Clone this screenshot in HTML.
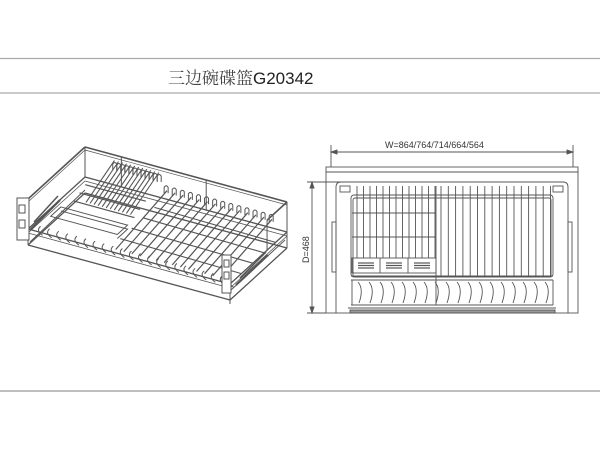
<!DOCTYPE html>
<html><head><meta charset="utf-8"><style>
html,body{margin:0;padding:0;background:#fff;width:600px;height:450px;overflow:hidden}
svg{display:block}
</style></head><body>
<svg id="s" width="600" height="450" viewBox="0 0 600 450" xmlns="http://www.w3.org/2000/svg" font-family="Liberation Sans, Noto Sans CJK SC, sans-serif">
<rect width="600" height="450" fill="#fff"/>
<line x1="0" y1="58.5" x2="600" y2="58.5" stroke="#aaa" stroke-width="1.2"/>
<line x1="0" y1="93" x2="600" y2="93" stroke="#aaa" stroke-width="1.2"/>
<line x1="0" y1="391" x2="600" y2="391" stroke="#aaa" stroke-width="1.5"/>
<text x="168" y="84" font-size="17" fill="#222"><tspan font-family="Noto Serif CJK SC, serif" fill="#444">三边碗碟篮</tspan><tspan font-family="Liberation Sans, sans-serif">G20342</tspan></text>
<g id="L" fill="none" stroke="#555" stroke-width="1"></g>
<g id="R" fill="none" stroke="#555" stroke-width="0.9">
<line x1="331" y1="152" x2="573" y2="152"/>
<path d="M331,152 l6,-2 v4z M573,152 l-6,-2 v4z" fill="#555"/>
<line x1="331" y1="145" x2="331" y2="167"/><line x1="573" y1="145" x2="573" y2="167"/>
<rect x="326" y="167" width="252" height="146"/>
<line x1="326" y1="172" x2="578" y2="172"/>
<line x1="307" y1="182" x2="343" y2="182"/>
<line x1="312" y1="182" x2="312" y2="313"/>
<path d="M312,182 l-2,6 h4z M312,313 l-2,-6 h4z" fill="#555"/>
<line x1="307" y1="313" x2="326" y2="313"/>
<path d="M336,187 q0,-5 5,-5 h222 q5,0 5,5 v126 M336,187 v126"/>
<rect x="340" y="186" width="10" height="6"/><rect x="553" y="186" width="10" height="6"/>
<rect x="332" y="222" width="4" height="50"/><rect x="568" y="222" width="4" height="50"/>
<rect x="351" y="195" width="202" height="82" rx="3"/>
<rect x="353" y="198" width="198" height="79" rx="2"/>
<line x1="351" y1="276" x2="553" y2="276"/><line x1="351" y1="280" x2="553" y2="280"/>
<line x1="351" y1="305" x2="553" y2="305"/><line x1="348" y1="308" x2="556" y2="308"/>
<rect x="350" y="310" width="205" height="3" fill="#999"/>
<rect x="352" y="258" width="84" height="15"/>
<line x1="380" y1="258" x2="380" y2="273"/><line x1="408" y1="258" x2="408" y2="273"/>
<line x1="436" y1="186" x2="436" y2="305"/>
<line x1="352" y1="213" x2="436" y2="213"/><line x1="352" y1="237" x2="436" y2="237"/>
<path d="M352,280 v25 M553,280 v25" />
</g>
<text x="385" y="148" font-size="9" fill="#333">W=864/764/714/664/564</text>
<text x="0" y="0" font-size="9" fill="#333" transform="translate(309,263) rotate(-90)">D=468</text>
<script>
var R=document.getElementById('R'),L=document.getElementById('L'),ns='http://www.w3.org/2000/svg';
function ln(g,a,b,c,d,w){var e=document.createElementNS(ns,'line');e.setAttribute('x1',a);e.setAttribute('y1',b);e.setAttribute('x2',c);e.setAttribute('y2',d);if(w)e.setAttribute('stroke-width',w);g.appendChild(e);}
function pa(g,d){var e=document.createElementNS(ns,'path');e.setAttribute('d',d);g.appendChild(e);}
function rc(g,x,y,w,h,f){var e=document.createElementNS(ns,'rect');e.setAttribute('x',x);e.setAttribute('y',y);e.setAttribute('width',w);e.setAttribute('height',h);if(f)e.setAttribute('fill',f);g.appendChild(e);}
for(var x=357;x<436;x+=6.5)ln(R,x,186,x,258);
for(var x=441;x<552;x+=7.3)ln(R,x,186,x,277);
for(var i=0;i<3;i++){var bx=358+i*28;for(var j=0;j<3;j++)ln(R,bx,263+j*2.5,bx+16,263+j*2.5,1.2);}
for(var x=358;x<552;x+=11)pa(R,'M'+x+',282 q6,7 1,21');
var T=[85,147],w=[202,55],d=[-57,52];
function P(u,v,h){return [T[0]+w[0]*u+d[0]*v, T[1]+w[1]*u+d[1]*v+h];}
function L2(p,q,s){ln(L,p[0],p[1],q[0],q[1],s);}
function quad(h,s){L2(P(0,0,h),P(1,0,h),s);L2(P(1,0,h),P(1,1,h),s);L2(P(1,1,h),P(0,1,h),s);L2(P(0,1,h),P(0,0,h),s);}
L2(P(0,0,0),P(1,0,0),1.6);L2(P(0,0,0),P(0,1,0),1.6);L2(P(1,0,0),P(1,.35,0),1.6);
L2(P(0,0,3),P(1,0,3),0.7);L2(P(0,0,3),P(0,1,3),0.7);
quad(30,1.3);quad(34,0.8);quad(46,1.3);
L2(P(0.18,0,0),P(0.18,0,30));L2(P(0.6,0,0),P(0.6,0,30));L2(P(1,0,0),P(1,0,46));L2(P(1,.35,0),P(1,.35,30));
L2(P(0,1,0),P(0,1,46));L2(P(1,1,30),P(1,1,50));L2(P(0,0,0),P(0,0,30));
for(var u=0.42;u<0.98;u+=0.04){L2(P(u,0.05,18),P(u,0.95,30),1.2);var a=P(u,0.1,10);pa(L,'M'+a[0]+','+(a[1]+8)+' v-6 q2,-3 4,0 v6');}
for(var v=0.2;v<1;v+=0.2)L2(P(0.4,v,28),P(1,v,30),1.1);
for(var u=0.16;u<0.4;u+=0.02){var a=P(u,0.05,2),b=P(u,0.55,18);L2(a,b,1.1);var c=P(u,0.08,4);pa(L,'M'+c[0]+','+(c[1]+6)+' v-6 q2,-3 4,0 v6');}
L2(P(0.1,0.55,20),P(0.4,0.55,20),1.2);L2(P(0.1,0.35,14),P(0.4,0.35,14),1.2);L2(P(0.1,0.45,17),P(0.4,0.45,17),1.2);
var c1=P(0.05,0.6,26),c2=P(0.38,0.6,26),c3=P(0.38,0.78,26),c4=P(0.05,0.78,26);
pa(L,'M'+c1+' L'+c2+' L'+c3+' L'+c4+'Z');
pa(L,'M'+c1[0]+','+(c1[1]+4)+' L'+c2[0]+','+(c2[1]+4)+' L'+c3[0]+','+(c3[1]+4));
for(var u=0.02;u<0.98;u+=0.045){var a=P(u,0.85,34);pa(L,'M'+a[0]+','+a[1]+' q-5,4 2,9');}
rc(L,17,198,12,42,'#fff');rc(L,19,205,6,8);rc(L,19,220,6,8);
rc(L,222,255,9,38,'#fff');rc(L,224,260,5,7);rc(L,224,272,5,7);
L2([30,230],[60,200],2.2);L2([236,285],[268,255],2.2);L2([231,290],[285,240]);L2([30,242],[85,190]);
L2([240,278],[266,252],1.5);L2([34,222],[58,196],1.5);
</script>
</svg>
</body></html>
